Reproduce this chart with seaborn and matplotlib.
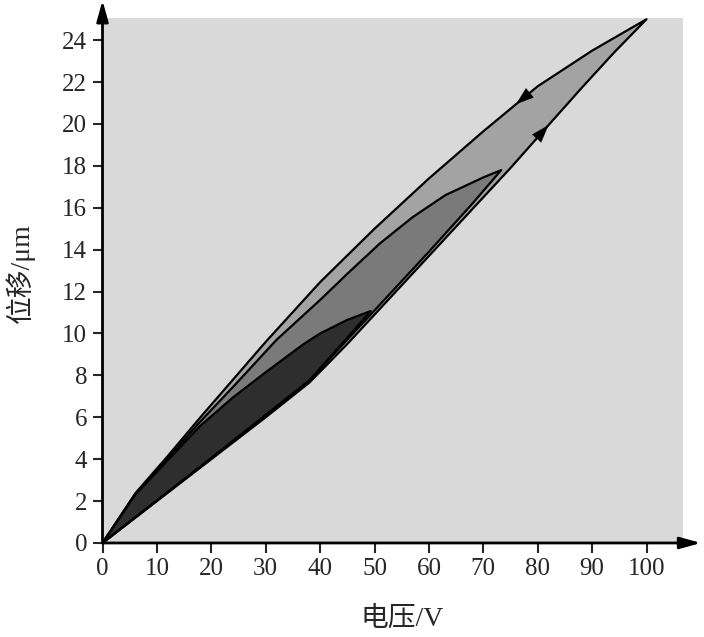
import numpy as np
import pandas as pd
import matplotlib
matplotlib.use("Agg")
import matplotlib.pyplot as plt
import seaborn as sns

# hysteresis loops, voltage (V) vs displacement (um)
# rising branch (lower edge) and falling branch (upper edge) of each loop
outer_up_v = [0, 10, 20, 30, 38, 45, 55, 65, 75, 82, 88, 94, 100]
outer_up_d = [0, 2.0, 4.0, 6.0, 7.65, 9.5, 12.3, 15.1, 17.9, 19.95, 21.7, 23.4, 25.0]
outer_down_v = [100, 96, 90, 80, 70, 60, 50, 40, 30, 24, 18, 12, 6.3, 0]
outer_down_d = [25.0, 24.4, 23.5, 21.8, 19.65, 17.4, 15.0, 12.45, 9.6, 7.8, 6.0, 4.15, 2.45, 0]

mid_up_v = [0, 20, 38, 50, 60, 68, 73.3]
mid_up_d = [0, 4.05, 7.75, 11.1, 13.9, 16.2, 17.8]
mid_down_v = [73.3, 70, 63, 57, 51, 45, 40, 32, 24, 18, 12, 6, 0]
mid_down_d = [17.8, 17.45, 16.6, 15.55, 14.3, 12.85, 11.6, 9.7, 7.45, 5.8, 4.05, 2.35, 0]

inner_up_v = [0, 20, 38, 45, 49.3]
inner_up_d = [0, 4.05, 7.75, 9.8, 11.07]
inner_down_v = [49.3, 45, 40, 37, 30, 24, 18, 12, 6, 0]
inner_down_d = [11.07, 10.65, 10.0, 9.5, 8.15, 6.95, 5.6, 3.95, 2.3, 0]

xticks = list(range(0, 101, 10))
yticks = list(range(0, 25, 2))

loops = {
    "outer": (outer_up_v + outer_down_v, outer_up_d + outer_down_d, "#a3a3a3"),
    "mid": (mid_up_v + mid_down_v, mid_up_d + mid_down_d, "#7a7a7a"),
    "inner": (inner_up_v + inner_down_v, inner_up_d + inner_down_d, "#2e2e2e"),
}

rows = []
for name, (v, d, c) in loops.items():
    for i, (a, b) in enumerate(zip(v, d)):
        rows.append({"loop": name, "order": i, "V": a, "d": b})
df = pd.DataFrame(rows)

sns.set_style("white")
plt.rcParams["font.family"] = ["Liberation Serif", "Noto Sans CJK SC", "DejaVu Sans"]

fig = plt.figure(figsize=(7.04, 6.37), dpi=100)
ax = fig.add_axes([0.1456, 0.1476, 0.85, 0.8485])

ax.set_xlim(0, 110)
ax.set_ylim(0, 25.8)

# gray plotting area
ax.fill_between([0, 106.7], 0, 25.05, color="#d9d9d9", lw=0, zorder=0)

for name, (v, d, c) in loops.items():
    ax.fill(v, d, color=c, lw=0, zorder=1)

sns.lineplot(data=df, x="V", y="d", units="loop", estimator=None, sort=False,
             color="black", lw=1.6, ax=ax, zorder=2)

# direction arrows on the outer loop
def mark(vs, ds):
    ax.annotate("", xy=(vs[1], ds[1]), xytext=(vs[0], ds[0]),
                arrowprops=dict(arrowstyle="-|>,head_length=0.65,head_width=0.22",
                                mutation_scale=20, color="black", lw=0,
                                shrinkA=0, shrinkB=0),
                zorder=3)

va = [79, 82]
mark(va, np.interp(va, outer_up_v, outer_up_d))
vb = [79, 76]
mark(vb, np.interp(vb, outer_down_v[::-1], outer_down_d[::-1]))

for s in ax.spines.values():
    s.set_visible(False)

axis_arrow = dict(arrowstyle="-|>,head_length=0.9,head_width=0.25",
                  mutation_scale=14, color="black", lw=2, shrinkA=0, shrinkB=0)
ax.annotate("", xy=(110, 0), xytext=(0, 0), annotation_clip=False, arrowprops=axis_arrow)
ax.annotate("", xy=(0, 25.9), xytext=(0, 0), annotation_clip=False, arrowprops=axis_arrow)

ax.set_xticks(xticks)
ax.set_yticks(yticks)
ax.tick_params(direction="out", length=7, width=1.5, labelsize=18, pad=4,
               bottom=True, left=True)
ax.set_xlabel("电压/V", fontsize=20, labelpad=19)
ax.set_ylabel("位移/μm", fontsize=20, labelpad=20)

fig.savefig("out.png", dpi=100)
